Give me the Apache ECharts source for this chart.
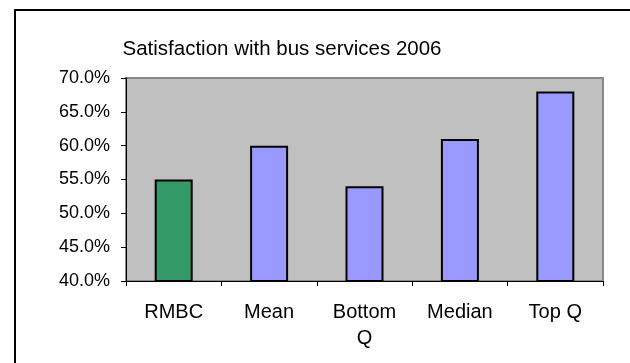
<!DOCTYPE html>
<html>
<head>
<meta charset="utf-8">
<script src="https://cdn.jsdelivr.net/npm/echarts@6/dist/echarts.min.js"></script>
<style>
  html, body { margin: 0; padding: 0; background: #fff; }
  #chart { width: 630px; height: 363px; }
</style>
</head>
<body>
<div id="chart"></div>
<script>
// Satisfaction with bus services, 2006 — share of respondents satisfied
const categories = ['RMBC', 'Mean', 'Bottom\nQ', 'Median', 'Top Q'];
const satisfaction = [55, 60, 54, 61, 68];
const barColors = ['#339966', '#9999FF', '#9999FF', '#9999FF', '#9999FF'];
const yMin = 40, yMax = 70, yStep = 5;

const FONT = '"Liberation Sans", Arial, sans-serif';
const chart = echarts.init(document.getElementById('chart'), null, { renderer: 'canvas' });

chart.setOption({
  animation: false,
  backgroundColor: '#ffffff',
  title: {
    text: 'Satisfaction with bus services 2006',
    left: 277,
    top: 34,
    textAlign: 'center',
    textStyle: { fontFamily: FONT, fontSize: 20.5, fontWeight: 'normal', color: '#000' }
  },
  graphic: [{
    type: 'rect',
    shape: { x: 15, y: 10, width: 700, height: 500 },
    style: { fill: 'none', stroke: '#000', lineWidth: 2 },
    silent: true,
    z: -1
  }],
  grid: {
    left: 126, top: 78, right: 27, bottom: 82,
    show: true,
    backgroundColor: '#C0C0C0',
    borderColor: '#8a8a8a',
    borderWidth: 2
  },
  xAxis: {
    type: 'category',
    data: categories,
    axisLine: { show: true, lineStyle: { color: '#000', width: 1 } },
    axisTick: { show: true, length: 5, alignWithLabel: false, lineStyle: { color: '#000' } },
    axisLabel: { fontFamily: FONT, fontSize: 20, color: '#000', margin: 18, lineHeight: 26, interval: 0 },
    splitLine: { show: false }
  },
  yAxis: {
    type: 'value',
    min: yMin, max: yMax, interval: yStep,
    axisLine: { show: true, lineStyle: { color: '#000', width: 1 } },
    axisTick: { show: true, length: 5, lineStyle: { color: '#000' } },
    axisLabel: {
      fontFamily: FONT, fontSize: 18, color: '#000', margin: 16,
      formatter: v => v.toFixed(1) + '%'
    },
    splitLine: { show: false }
  },
  series: [{
    type: 'bar',
    barWidth: 38,
    data: satisfaction.map((v, i) => ({
      value: v,
      itemStyle: { color: barColors[i] }
    })),
    itemStyle: { borderColor: '#000', borderWidth: 2 }
  }]
});
</script>
</body>
</html>
